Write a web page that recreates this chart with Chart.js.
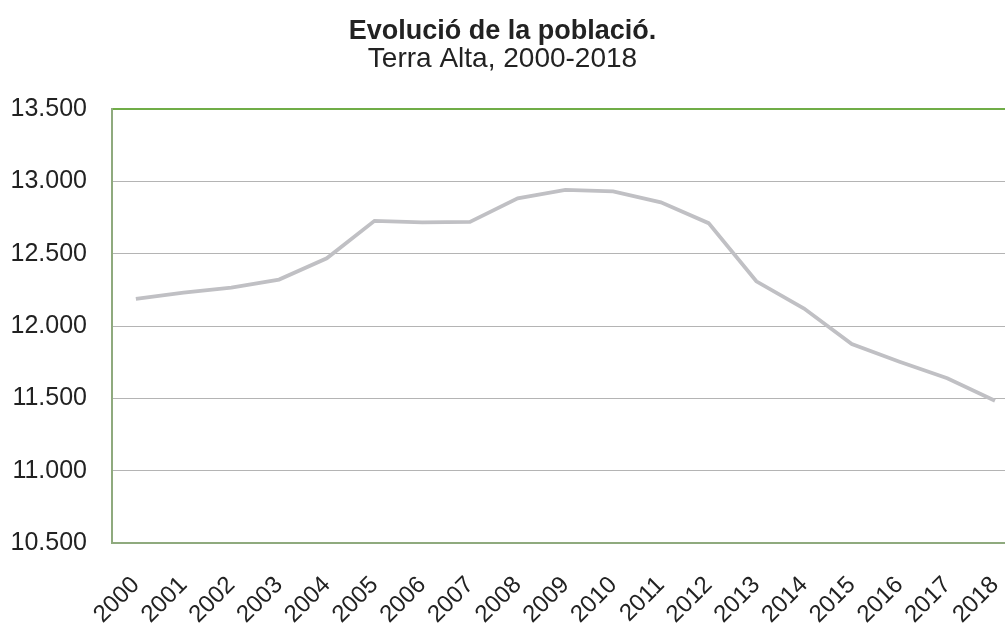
<!DOCTYPE html>
<html>
<head>
<meta charset="utf-8">
<script src="https://cdn.jsdelivr.net/npm/chart.js@4"></script>
<style>
  html, body { margin: 0; padding: 0; background: #fff; overflow: hidden; }
  #wrap { width: 1005px; height: 623px; position: relative; }
</style>
</head>
<body>
<div id="wrap"><canvas id="grafic"></canvas></div>
<script>
// dades llegides del gràfic (població Terra Alta)
const anys = [2000, 2001, 2002, 2003, 2004, 2005, 2006, 2007, 2008, 2009,
              2010, 2011, 2012, 2013, 2014, 2015, 2016, 2017, 2018];
const poblacio = [12187, 12230, 12266, 12321, 12468, 12727, 12716, 12720, 12883, 12941,
                  12931, 12855, 12711, 12309, 12121, 11875, 11753, 11639, 11483];
const ticksY = [10500, 11000, 11500, 12000, 12500, 13000, 13500];

const titol = "Evolució de la població.";
const subtitol = "Terra Alta, 2000-2018";

const FONT = "'Liberation Sans', Arial, sans-serif";
const verd = "#70ad47";
const verdEix = "#8faa7e";
const gris = "#b4b4b4";

// format amb punt de milers
function ambPunts(v) {
  return String(v).replace(/\B(?=(\d{3})+(?!\d))/g, ".");
}

const punts = anys.map((a, i) => ({ x: a, y: poblacio[i] }));

new Chart(document.getElementById("grafic").getContext("2d"), {
  type: "line",
  data: {
    datasets: [{
      label: "Població",
      data: punts,
      borderColor: "#c0c0c4",
      borderWidth: 3.8,
      pointRadius: 0,
      tension: 0,
      fill: false
    }]
  },
  options: {
    responsive: true,
    maintainAspectRatio: false,
    animation: false,
    layout: { padding: 0 },
    plugins: {
      legend: { display: false },
      tooltip: { enabled: false },
      title: {
        display: true,
        text: titol,
        color: "#222",
        font: { family: FONT, size: 27, weight: "bold", lineHeight: 1 },
        padding: { top: 18, bottom: 0 }
      },
      subtitle: {
        display: true,
        text: subtitol,
        color: "#222",
        font: { family: FONT, size: 28, lineHeight: 1 },
        padding: { top: 0, bottom: 36 }
      }
    },
    scales: {
      x: {
        type: "linear",
        min: 1999.5,
        max: 2018.21,
        afterBuildTicks: (scale) => {
          scale.ticks = anys.map(a => ({ value: a }));
        },
        afterFit: (scale) => {
          scale.height = 80;
          scale.paddingLeft = 0;
          scale.paddingRight = 0;
        },
        ticks: {
          autoSkip: false,
          minRotation: 45,
          maxRotation: 45,
          padding: 3,
          color: "#222",
          font: { family: FONT, size: 24 },
          callback: (v) => String(v)
        },
        grid: {
          drawOnChartArea: false,
          drawTicks: true,
          tickLength: 25,
          tickColor: "rgba(0,0,0,0)"
        },
        border: { color: verdEix, width: 2 }
      },
      y: {
        min: 10500,
        max: 13500,
        afterBuildTicks: (scale) => {
          scale.ticks = ticksY.map(v => ({ value: v }));
        },
        afterFit: (scale) => {
          scale.width = 112;
        },
        ticks: {
          padding: 25,
          color: "#222",
          font: { family: FONT, size: 25 },
          callback: (v) => ambPunts(v)
        },
        grid: {
          drawTicks: false,
          color: (ctx) => ctx.tick && ctx.tick.value === 13500 ? verd : gris,
          lineWidth: (ctx) => ctx.tick && ctx.tick.value === 13500 ? 2 : 1
        },
        border: { color: verdEix, width: 2 }
      }
    }
  }
});
</script>
</body>
</html>
